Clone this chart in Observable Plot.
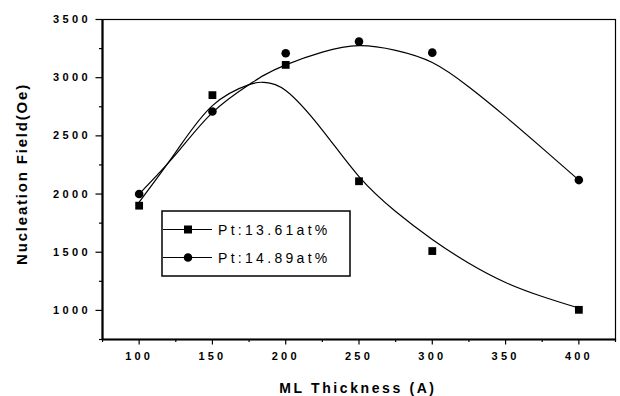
<!DOCTYPE html>
<html><head><meta charset="utf-8">
<script src="https://cdn.jsdelivr.net/npm/d3@7"></script>
<script src="https://cdn.jsdelivr.net/npm/@observablehq/plot@0.6"></script>
<style>
body{margin:0;background:#fff;}
#chart{width:620px;height:396px;}
svg text{font-family:"Liberation Sans",Arial,sans-serif;}
g[aria-label="y-axis tick label"] text{letter-spacing:3.4px;font-weight:bold;}
g[aria-label="x-axis tick label"] text{letter-spacing:3.2px;font-weight:bold;}
.ttl{font-weight:bold;fill:#000;}
.leg{font-size:14px;letter-spacing:3.3px;fill:#000;}
</style>
</head><body><div id="chart"></div>
<script>
// Data
const thickness = [100, 150, 200, 250, 300, 400];
const field1361 = [1900, 2850, 3110, 2110, 1510, 1005];
const field1489 = [2000, 2710, 3210, 3310, 3215, 2120];
// fitted curves
const fitX    = [100, 125, 150, 175, 185, 200, 225, 250, 275, 300, 325, 350, 375, 400];
const fit1361 = [1930, 2360, 2760, 2940, 2960, 2890, 2550, 2150, 1850, 1610, 1405, 1240, 1120, 1020];
const fit1489 = [2000, 2340, 2700, 2940, 3020, 3110, 3220, 3275, 3235, 3130, 2920, 2665, 2395, 2120];
const xMajor = [100, 150, 200, 250, 300, 350, 400];
const xMinor = [75, 125, 175, 225, 275, 325, 375, 425];
const yMajor = [1000, 1500, 2000, 2500, 3000, 3500];
const yMinor = [750, 1250, 1750, 2250, 2750, 3250];
const seriesNames = ["Pt:13.61at%", "Pt:14.89at%"];
const xTitle = "ML Thickness (A)";
const yTitle = "Nucleation Field(Oe)";

const pts1 = thickness.map((x, i) => ({x, y: field1361[i]}));
const pts2 = thickness.map((x, i) => ({x, y: field1489[i]}));
const c1 = fitX.map((x, i) => ({x, y: fit1361[i]}));
const c2 = fitX.map((x, i) => ({x, y: fit1489[i]}));

const W = 620, H = 396;
const plot = Plot.plot({
  width: W, height: H,
  marginLeft: 102, marginRight: 5, marginTop: 19, marginBottom: 57,
  style: {background: "#fff", color: "#000", fontSize: "11px", fontFamily: "Liberation Sans, Arial, sans-serif"},
  x: {domain: [75, 425]},
  y: {domain: [750, 3500]},
  marks: [
    Plot.line(c1, {x: "x", y: "y", curve: "natural", stroke: "#000", strokeWidth: 1.2}),
    Plot.line(c2, {x: "x", y: "y", curve: "natural", stroke: "#000", strokeWidth: 1.2}),
    Plot.dot(pts1, {x: "x", y: "y", symbol: "square", r: 4.4, fill: "#000", stroke: "none"}),
    Plot.dot(pts2, {x: "x", y: "y", symbol: "circle", r: 4.3, fill: "#000", stroke: "none"}),
    Plot.frame({stroke: "#000", strokeWidth: 1.2}),
    Plot.ruleX([75], {stroke: "#000", strokeWidth: 2.2}),
    Plot.ruleY([750], {stroke: "#000", strokeWidth: 2.2}),
    Plot.axisY(yMajor, {label: null, tickSize: 6.5, tickPadding: 5, strokeWidth: 1.2, fontSize: 11, tickFormat: d => String(d)}),
    Plot.axisY(yMinor, {label: null, tickSize: 3, tickFormat: () => "", strokeWidth: 1.2}),
    Plot.axisX(xMajor, {label: null, tickSize: 5.5, tickPadding: 7, strokeWidth: 1.2, fontSize: 11, tickFormat: d => String(d)}),
    Plot.axisX(xMinor, {label: null, tickSize: 3, tickFormat: () => "", strokeWidth: 1.2})
  ]
});
document.getElementById("chart").appendChild(plot);

const svg = d3.select(plot);
// axis titles
svg.append("text").attr("class", "ttl").attr("x", 358).attr("y", 393)
  .attr("text-anchor", "middle").style("font-size", "14px").style("letter-spacing", "2.6px").text(xTitle);
svg.append("text").attr("class", "ttl")
  .attr("transform", "translate(27,174) rotate(-90)")
  .attr("text-anchor", "middle").style("font-size", "15px").style("letter-spacing", "1.8px").text(yTitle);

// legend
const lg = svg.append("g");
lg.append("rect").attr("x", 162).attr("y", 211).attr("width", 188).attr("height", 65)
  .attr("fill", "#fff").attr("stroke", "#000").attr("stroke-width", 1.5);
const rows = [229.5, 257.5];
seriesNames.forEach((name, i) => {
  const y = rows[i];
  lg.append("line").attr("x1", 163).attr("x2", 212).attr("y1", y).attr("y2", y)
    .attr("stroke", "#000").attr("stroke-width", 1.2);
  if (i === 0) lg.append("rect").attr("x", 184).attr("y", y - 4).attr("width", 8).attr("height", 8).attr("fill", "#000");
  else lg.append("circle").attr("cx", 188).attr("cy", y).attr("r", 4.3).attr("fill", "#000");
  lg.append("text").attr("class", "leg").attr("x", 218).attr("y", y + 5)
    .attr("text-anchor", "start").text(name);
});
</script>
</body></html>
